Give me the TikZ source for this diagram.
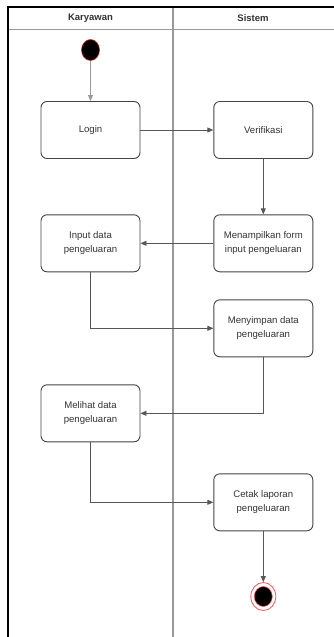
\documentclass[tikz,border=0pt]{standalone}
\usepackage{fontspec}
\setmainfont{Liberation Sans}
\usetikzlibrary{arrows.meta,shapes.geometric}
\definecolor{boxline}{HTML}{444444}
\definecolor{txt}{HTML}{333333}
\definecolor{lane}{HTML}{999999}
\definecolor{startred}{HTML}{E02020}
\definecolor{endred}{HTML}{FF5555}
\begin{document}
\begin{tikzpicture}[x=1pt,y=-1pt,
  actbox/.style={draw=boxline,line width=0.9pt,rounded corners=6pt,fill=white,
    minimum width=99pt,minimum height=57pt,inner sep=2pt,align=center,
    text=txt,font=\fontsize{9.6}{14}\selectfont},
  flow/.style={draw=boxline!90,line width=0.8pt,-{Triangle[length=6pt,width=5pt]}},
  hdr/.style={font=\fontsize{9.5}{11}\selectfont\bfseries,text=txt}]
\useasboundingbox (0,0) rectangle (334,637);
\fill[white] (0,0) rectangle (334,637);
% swimlane frame
\draw[lane,line width=1.2pt] (173,7) -- (173,640);
\draw[lane,line width=1pt] (8,29) -- (336,29);
\draw[black,line width=1.2pt] (8,640) -- (8,7) -- (336,7);
\node[hdr] (h1) at (90.5,18) {Karyawan};
\node[hdr] (h2) at (253,18) {Sistem};
% start
\node[draw=startred,fill=black,ellipse,minimum width=18pt,minimum height=21pt,inner sep=0pt,line width=0.6pt] (start) at (90.5,50) {};
% activities
\node[actbox] (login) at (90.5,130) {Login};
\node[actbox] (verif) at (263.3,130) {Verifikasi};
\node[actbox] (tampil) at (263.3,243.3) {Menampilkan form\\input pengeluaran};
\node[actbox] (input) at (90.5,243.3) {Input data\\pengeluaran};
\node[actbox] (simpan) at (263.3,328.3) {Menyimpan data\\pengeluaran};
\node[actbox] (lihat) at (90.5,413.3) {Melihat data\\pengeluaran};
\node[actbox] (cetak) at (263.3,502.3) {Cetak laporan\\pengeluaran};
% end
\node[draw=endred,line width=0.8pt,ellipse,minimum width=25pt,minimum height=28pt,inner sep=0pt] (endo) at (263.3,596.5) {};
\node[draw=endred,fill=black,ellipse,minimum width=18pt,minimum height=20pt,inner sep=0pt,line width=0.6pt] (endi) at (263.3,596.5) {};
% flows
\draw[flow,draw=lane] (start) -- (login);
\draw[flow] (login) -- (verif);
\draw[flow] (verif) -- (tampil);
\draw[flow] (tampil) -- (input);
\draw[flow] (input.south) |- (simpan.west);
\draw[flow] (simpan.south) |- (lihat.east);
\draw[flow] (lihat.south) |- (cetak.west);
\draw[flow] (cetak) -- (endo);
\end{tikzpicture}
\end{document}
